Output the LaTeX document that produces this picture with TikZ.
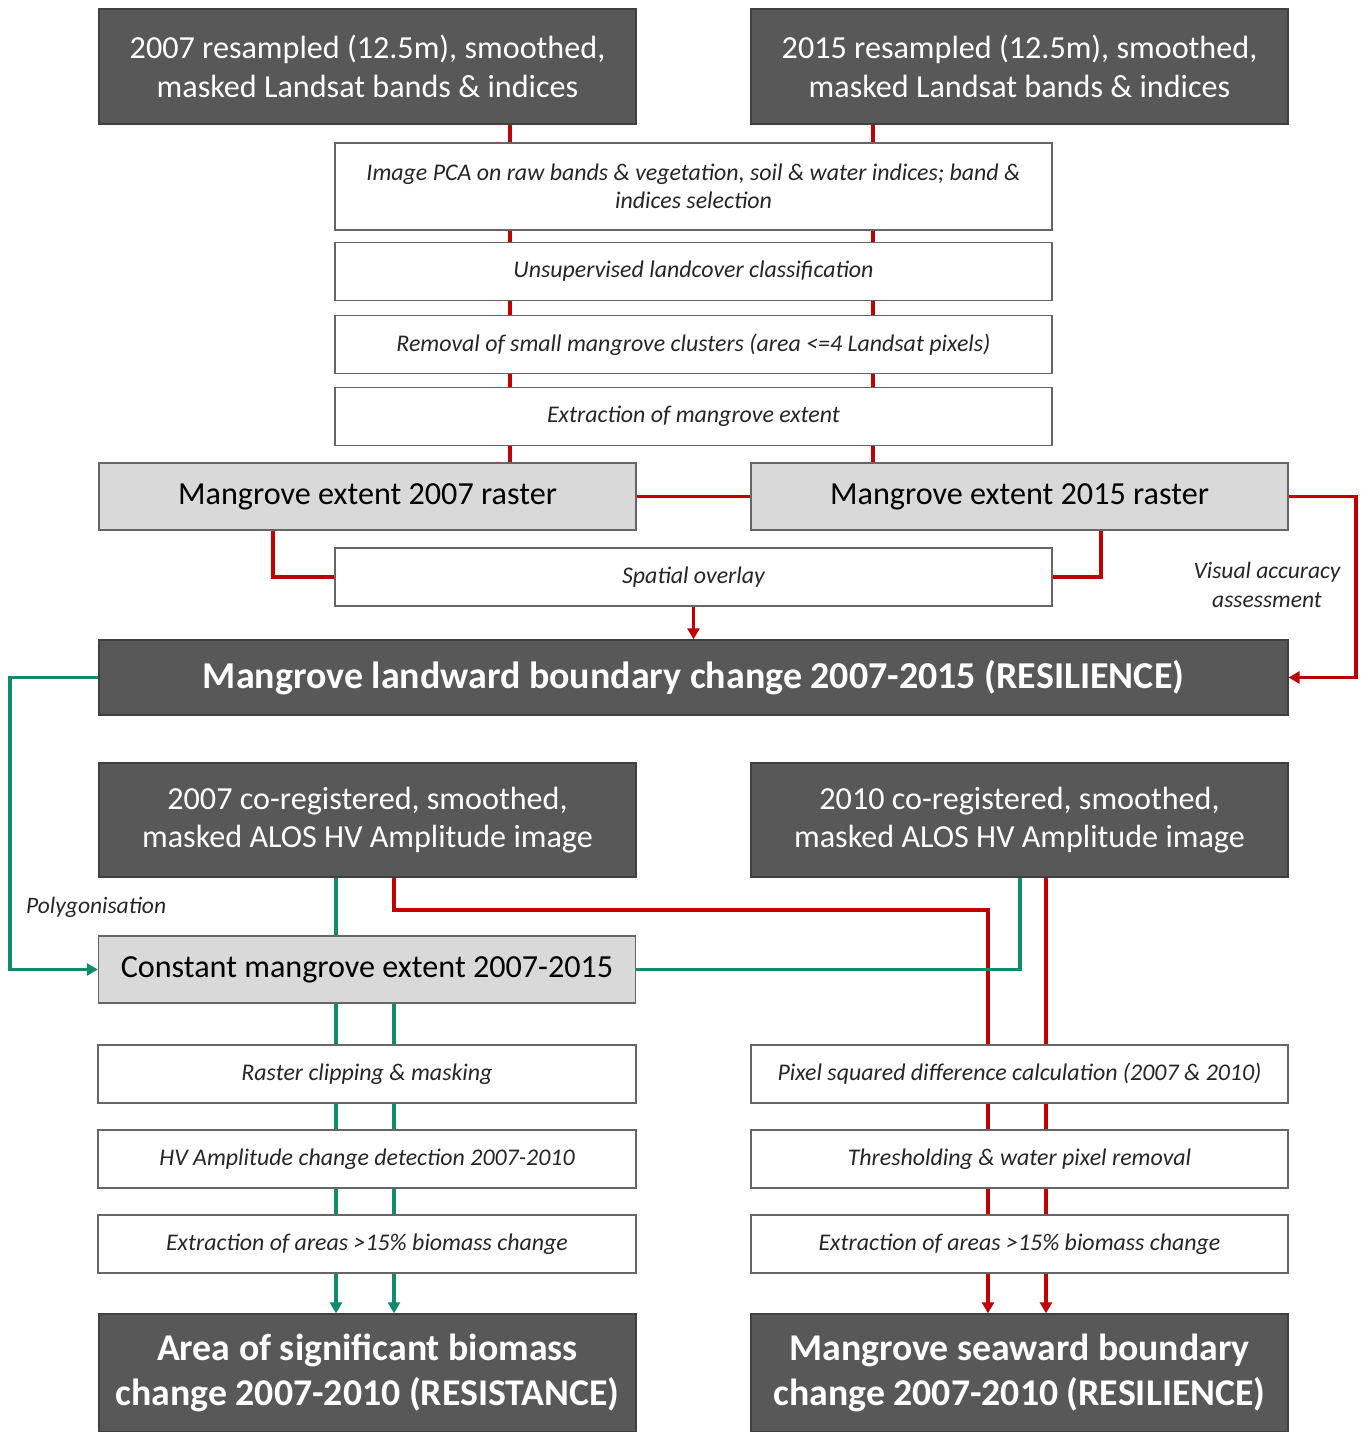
\documentclass[tikz,border=0pt]{standalone}
\usepackage{fontspec}
\setmainfont{Carlito}
\usetikzlibrary{arrows.meta}
\definecolor{boxdark}{RGB}{88,88,88}
\definecolor{boxlight}{RGB}{217,217,217}
\definecolor{linered}{RGB}{192,0,0}
\definecolor{linegreen}{RGB}{16,140,108}
\begin{document}
\begin{tikzpicture}[x=0.02cm,y=-0.02cm,line join=miter,
	darkbox/.style={draw=black!75,line width=0.8pt,fill=boxdark,text=white,align=center,minimum width=10.74cm,minimum height=2.3cm,font=\fontsize{18.3}{22}\selectfont},
	greybox/.style={draw=black!60,line width=0.8pt,fill=boxlight,align=center,minimum width=10.74cm,minimum height=1.34cm,font=\fontsize{18.3}{22}\selectfont},
	procbox/.style={draw=black!60,line width=0.8pt,fill=white,text=black!85,align=center,minimum width=14.34cm,minimum height=1.16cm,font=\fontsize{13.6}{16}\selectfont\itshape},
	bigbox/.style={darkbox,font=\fontsize{21.5}{25.5}\selectfont\bfseries},
	note/.style={text=black!85,align=center,font=\fontsize{13.4}{16.4}\selectfont\itshape},
	redline/.style={linered,line width=2.2pt},
	greenline/.style={linegreen,line width=1.9pt},
	arrowend/.style={-{Triangle[length=0.22cm,width=0.24cm]}}]
	\useasboundingbox (0,0) rectangle (1365,1432);
	\node[darkbox] (top07) at (367.5,66.5) {2007 resampled (12.5m), smoothed,\\masked Landsat bands \& indices};
	\node[darkbox] (top15) at (1019.5,66.5) {2015 resampled (12.5m), smoothed,\\masked Landsat bands \& indices};
	\node[procbox,minimum height=1.74cm] (pca) at (693.5,186.5) {Image PCA on raw bands \& vegetation, soil \& water indices; band \&\\indices selection};
	\node[procbox] (unsup) at (693.5,271.5) {Unsupervised landcover classification};
	\node[procbox] (small) at (693.5,344.5) {Removal of small mangrove clusters (area <=4 Landsat pixels)};
	\node[procbox] (extr) at (693.5,416.5) {Extraction of mangrove extent};
	\node[greybox] (ras07) at (367.5,496.5) {Mangrove extent 2007 raster};
	\node[greybox] (ras15) at (1019.5,496.5) {Mangrove extent 2015 raster};
	\node[procbox] (overlay) at (693.5,577) {Spatial overlay};
	\node[darkbox,minimum width=23.78cm,minimum height=1.5cm,font=\fontsize{21.6}{25}\selectfont\bfseries] (land) at (693.5,677.5) {Mangrove landward boundary change 2007-2015 (RESILIENCE)};
	\node[note] (vis) at (1267,585) {Visual accuracy\\assessment};
	\node[darkbox,minimum height=2.28cm] (alos07) at (367.5,820) {2007 co-registered, smoothed,\\masked ALOS HV Amplitude image};
	\node[darkbox,minimum height=2.28cm] (alos10) at (1019.5,820) {2010 co-registered, smoothed,\\masked ALOS HV Amplitude image};
	\node[note,anchor=west] (poly) at (20,907) {Polygonisation};
	\node[greybox] (const) at (367,969.5) {Constant mangrove extent 2007-2015};
	\node[procbox,minimum width=10.76cm] (clip) at (367,1074) {Raster clipping \& masking};
	\node[procbox,minimum width=10.76cm] (hv) at (367,1159) {HV Amplitude change detection 2007-2010};
	\node[procbox,minimum width=10.76cm] (extl) at (367,1244) {Extraction of areas >15\% biomass change};
	\node[procbox,minimum width=10.74cm] (pix) at (1019.5,1074) {Pixel squared difference calculation (2007 \& 2010)};
	\node[procbox,minimum width=10.74cm] (thr) at (1019.5,1159) {Thresholding \& water pixel removal};
	\node[procbox,minimum width=10.74cm] (extr2) at (1019.5,1244) {Extraction of areas >15\% biomass change};
	\node[bigbox,minimum height=2.36cm] (resl) at (367.5,1373) {Area of significant biomass\\change 2007-2010 (RESISTANCE)};
	\node[bigbox,minimum height=2.36cm] (resr) at (1019.5,1373) {Mangrove seaward boundary\\change 2007-2010 (RESILIENCE)};
	\coordinate (lx) at (510,0);
	\coordinate (rx) at (873,0);
	\coordinate (ax) at (273,0);
	\coordinate (bx) at (1101,0);
	\coordinate (vx) at (1356,0);
	\coordinate (gx) at (10,0);
	\coordinate (g1) at (336,0);
	\coordinate (g2) at (394,0);
	\coordinate (g3) at (1020,0);
	\coordinate (kink) at (394,910);
	\coordinate (r1) at (988,0);
	\coordinate (r2) at (1046,0);
	\draw[redline] (top07.south -| lx) -- (pca.north -| lx) (top15.south -| rx) -- (pca.north -| rx);
	\foreach \a/\b in {pca/unsup,unsup/small,small/extr}
		\draw[redline] (\a.south -| lx) -- (\b.north -| lx) (\a.south -| rx) -- (\b.north -| rx);
	\draw[redline] (extr.south -| lx) -- (ras07.north -| lx) (extr.south -| rx) -- (ras15.north -| rx);
	\draw[redline] (ras07.east) -- (ras15.west);
	\draw[redline] (ras07.south -| ax) |- (overlay.west);
	\draw[redline] (ras15.south -| bx) |- (overlay.east);
	\draw[redline,arrowend] (overlay.south) -- (land.north);
	\draw[redline,arrowend] (ras15.east) -- (ras15.east -| vx) |- (land.east);
	\draw[greenline,arrowend] (land.west) -- (land.west -| gx) |- (const.west);
	\draw[redline] (alos07.south -| kink) -- (kink) -| (pix.north -| r1);
	\draw[redline] (alos10.south -| r2) -- (pix.north -| r2);
	\draw[greenline] (alos07.south -| g1) -- (const.north -| g1);
	\draw[greenline] (alos10.south -| g3) |- (const.east);
	\foreach \a/\b in {const/clip,clip/hv,hv/extl}
		\draw[greenline] (\a.south -| g1) -- (\b.north -| g1) (\a.south -| g2) -- (\b.north -| g2);
	\draw[greenline,arrowend] (extl.south -| g1) -- (resl.north -| g1);
	\draw[greenline,arrowend] (extl.south -| g2) -- (resl.north -| g2);
	\foreach \a/\b in {pix/thr,thr/extr2}
		\draw[redline] (\a.south -| r1) -- (\b.north -| r1) (\a.south -| r2) -- (\b.north -| r2);
	\draw[redline,arrowend] (extr2.south -| r1) -- (resr.north -| r1);
	\draw[redline,arrowend] (extr2.south -| r2) -- (resr.north -| r2);
\end{tikzpicture}
\end{document}
